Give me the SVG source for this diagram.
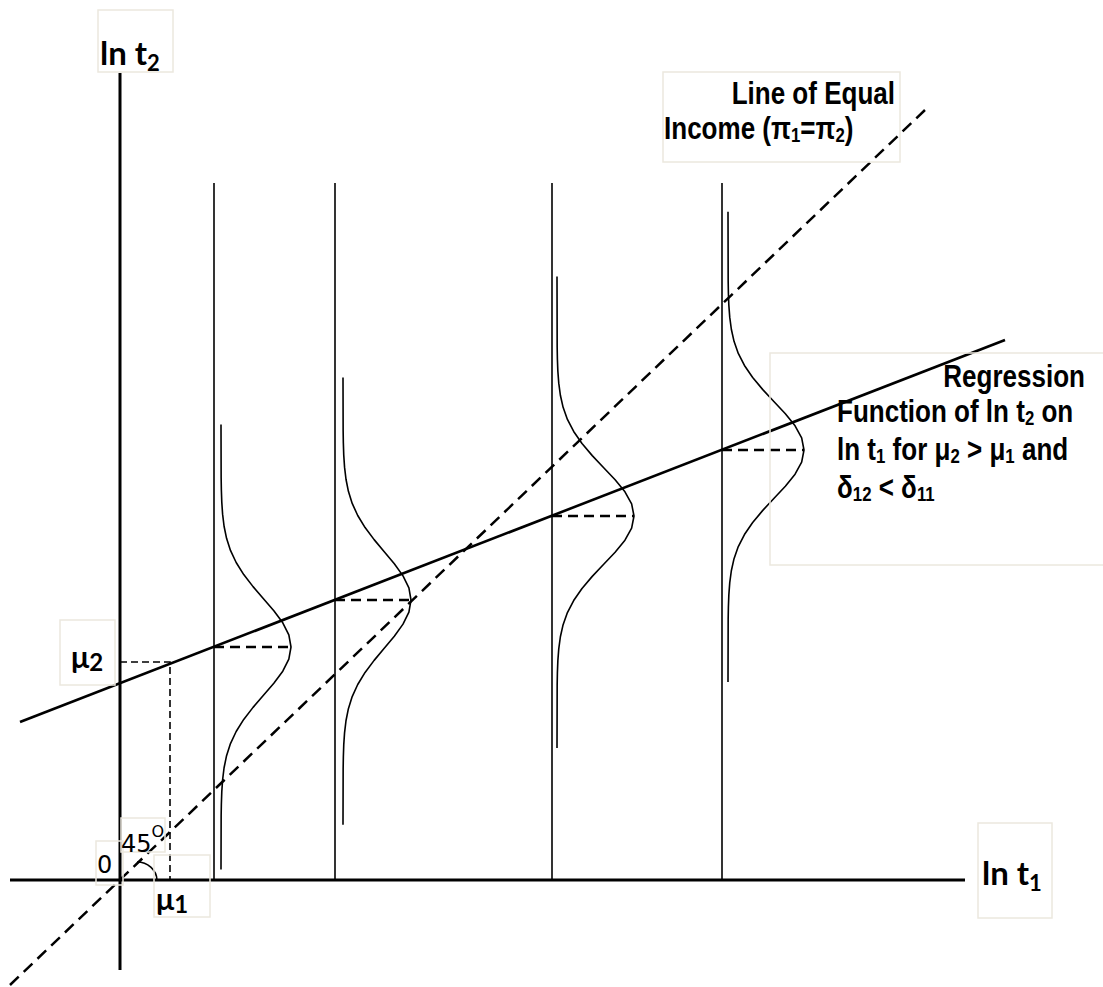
<svg xmlns="http://www.w3.org/2000/svg" width="1103" height="987" viewBox="0 0 1103 987">
<style>
.box{fill:none;stroke:#ebe8de;stroke-width:1.5}
.axis{stroke:#000;stroke-width:3;fill:none}
.vl{stroke:#000;stroke-width:1.6;fill:none}
.reg{stroke:#000;stroke-width:2.6;fill:none}
.eq{stroke:#000;stroke-width:2.5;fill:none;stroke-dasharray:12 7}
.hd{stroke:#000;stroke-width:2.3;fill:none;stroke-dasharray:10 6}
.md{stroke:#000;stroke-width:1.6;fill:none;stroke-dasharray:7 4}
.crv{stroke:#000;stroke-width:1.6;fill:none;stroke-linejoin:round}
.axl{font-family:Lato,"Liberation Sans",sans-serif;font-weight:bold;font-size:33px;fill:#000}
.mu{font-family:Lato,"Liberation Sans",sans-serif;font-weight:bold;font-size:30px;fill:#000}
.num{font-family:"DejaVu Sans",sans-serif;font-size:24px;fill:#000}
.lbl{font-family:"Liberation Sans",Arial,sans-serif;font-weight:bold;font-size:31px;fill:#000}
</style>
<g id="axes">
<line class="axis" x1="120" y1="73" x2="120" y2="970"/>
<line class="axis" x1="10" y1="880" x2="965" y2="880"/>
</g>
<g id="connectors">
<line class="vl" x1="214" y1="183" x2="214" y2="880"/>
<line class="vl" x1="335" y1="183" x2="335" y2="880"/>
<line class="vl" x1="552" y1="183" x2="552" y2="880"/>
<line class="vl" x1="722" y1="183" x2="722" y2="880"/>
<line class="eq" x1="10" y1="985" x2="925" y2="110"/>
<line class="reg" x1="20" y1="722" x2="1005" y2="340"/>
<polyline class="md" points="120,662 170,662 170,880"/>
<line class="hd" x1="214" y1="647" x2="291" y2="647"/>
<line class="hd" x1="335" y1="600" x2="411" y2="600"/>
<line class="hd" x1="552" y1="516" x2="634" y2="516"/>
<line class="hd" x1="722" y1="450" x2="804" y2="450"/>
<path class="vl" d="M137,862 A20,19 0 0 1 157,880"/>
</g>
<g id="curve1" transform="translate(221,647) scale(1,1.05)">
<path class="crv" vector-effect="non-scaling-stroke" d="M0,-212 L0.15,-161 L0.36,-149.5 L0.78,-138 L1.6,-126.5 L3.07,-115 L5.56,-103.5 L9.47,-92 L15.16,-80.5 L22.73,-69 L32.05,-57.5 L42.46,-46 L52.84,-34.5 L61.78,-23 L67.84,-11.5 L70,0 L67.84,11.5 L61.78,23 L52.84,34.5 L42.46,46 L32.05,57.5 L22.73,69 L15.16,80.5 L9.47,92 L5.56,103.5 L3.07,115 L1.6,126.5 L0.78,138 L0.36,149.5 L0.15,161 L0,212"/>
</g>
<g id="curve2" transform="translate(343,600) scale(1,1.05)">
<path class="crv" vector-effect="non-scaling-stroke" d="M0,-212 L0.15,-161 L0.35,-149.5 L0.75,-138 L1.55,-126.5 L2.99,-115 L5.4,-103.5 L9.2,-92 L14.72,-80.5 L22.08,-69 L31.13,-57.5 L41.24,-46 L51.33,-34.5 L60.01,-23 L65.91,-11.5 L68,0 L65.91,11.5 L60.01,23 L51.33,34.5 L41.24,46 L31.13,57.5 L22.08,69 L14.72,80.5 L9.2,92 L5.4,103.5 L2.99,115 L1.55,126.5 L0.75,138 L0.35,149.5 L0.15,161 L0,214"/>
</g>
<g id="curve3" transform="translate(557,516) scale(1,1.05)">
<path class="crv" vector-effect="non-scaling-stroke" d="M0,-228 L0.17,-161 L0.39,-149.5 L0.85,-138 L1.76,-126.5 L3.38,-115 L6.11,-103.5 L10.42,-92 L16.67,-80.5 L25,-69 L35.25,-57.5 L46.7,-46 L58.12,-34.5 L67.95,-23 L74.63,-11.5 L77,0 L74.63,11.5 L67.95,23 L58.12,34.5 L46.7,46 L35.25,57.5 L25,69 L16.67,80.5 L10.42,92 L6.11,103.5 L3.38,115 L1.76,126.5 L0.85,138 L0.39,149.5 L0.17,161 L0,221"/>
</g>
<g id="curve4" transform="translate(728,450) scale(1,1.05)">
<path class="crv" vector-effect="non-scaling-stroke" d="M0,-227 L0.17,-161 L0.39,-149.5 L0.84,-138 L1.73,-126.5 L3.34,-115 L6.03,-103.5 L10.28,-92 L16.45,-80.5 L24.68,-69 L34.79,-57.5 L46.09,-46 L57.36,-34.5 L67.07,-23 L73.66,-11.5 L76,0 L73.66,11.5 L67.07,23 L57.36,34.5 L46.09,46 L34.79,57.5 L24.68,69 L16.45,80.5 L10.28,92 L6.03,103.5 L3.34,115 L1.73,126.5 L0.84,138 L0.39,149.5 L0.17,161 L0,221"/>
</g>
<g id="label-lnt2">
<rect class="box" x="98" y="10" width="75" height="62"/>
<text class="axl" x="100" y="65">ln t<tspan font-size="22" dy="6">2</tspan></text>
</g>
<g id="label-lnt1">
<rect class="box" x="978" y="823" width="74" height="95"/>
<text class="axl" x="982" y="885">ln t<tspan font-size="22" dy="6">1</tspan></text>
</g>
<g id="label-mu2">
<rect class="box" x="60" y="620" width="55" height="65"/>
<text class="mu" x="71" y="668">μ<tspan font-size="24" dy="3">2</tspan></text>
</g>
<g id="label-mu1">
<rect class="box" x="154" y="855" width="56" height="62"/>
<text class="mu" x="156" y="910">μ<tspan font-size="24" dy="3">1</tspan></text>
</g>
<g id="label-zero">
<rect class="box" x="96" y="841" width="27" height="44"/>
<text class="num" x="97" y="873">0</text>
</g>
<g id="label-45">
<rect class="box" x="121" y="818" width="44" height="34"/>
<text class="num" x="121" y="852">45<tspan font-size="16" dy="-15">O</tspan></text>
</g>
<g id="label-equal">
<rect class="box" x="663" y="72" width="237" height="90"/>
<text class="lbl" transform="translate(895,104) scale(0.84,1)" text-anchor="end">Line of Equal</text>
<text class="lbl" transform="translate(664,139) scale(0.84,1)">Income (π<tspan font-size="20" dy="3">1</tspan><tspan dy="-3">=π</tspan><tspan font-size="20" dy="3">2</tspan><tspan dy="-3">)</tspan></text>
</g>
<g id="label-regression">
<rect class="box" x="770" y="353" width="340" height="212"/>
<text class="lbl" transform="translate(1085,387) scale(0.84,1)" text-anchor="end">Regression</text>
<text class="lbl" transform="translate(837,422) scale(0.84,1)">Function of ln t<tspan font-size="20" dy="3">2</tspan><tspan dy="-3"> on</tspan></text>
<text class="lbl" transform="translate(837,460) scale(0.84,1)">ln t<tspan font-size="20" dy="3">1</tspan><tspan dy="-3"> for μ</tspan><tspan font-size="20" dy="3">2</tspan><tspan dy="-3"> &gt; μ</tspan><tspan font-size="20" dy="3">1</tspan><tspan dy="-3"> and</tspan></text>
<text class="lbl" transform="translate(837,498) scale(0.84,1)">δ<tspan font-size="20" dy="3">12</tspan><tspan dy="-3"> &lt; δ</tspan><tspan font-size="20" dy="3">11</tspan></text>
</g>
</svg>
